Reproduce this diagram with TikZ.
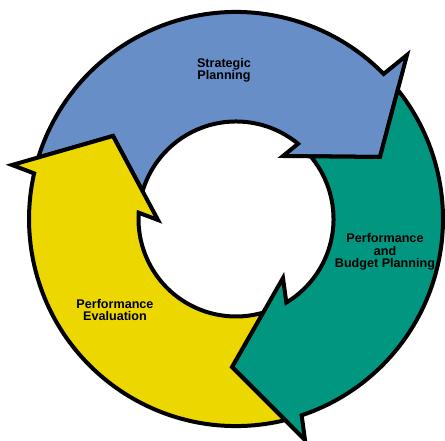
\documentclass[tikz,border=0pt]{standalone}
\usepackage{fontspec}
\setmainfont{Liberation Sans}
\usetikzlibrary{intersections,calc}
\definecolor{cblue}{RGB}{104,142,200}
\definecolor{cteal}{RGB}{0,150,128}
\definecolor{cyellow}{RGB}{236,216,0}
\tikzset{
  arrowband/.style={draw=black, line width=4pt, line join=miter, miter limit=20},
  lbl/.style={font=\bfseries\fontsize{12.6}{12.5}\selectfont, align=center, anchor=base, inner sep=0pt, text=black},
}
\begin{document}
\begin{tikzpicture}[x=1pt,y=1pt]
\useasboundingbox (-236,-222) rectangle (209,219);
\def\Ro{207}
\def\Ri{97.5}
\path[name path=outer] (0,0) circle[radius=\Ro];
\path[name path=inner] (0,0) circle[radius=\Ri];
% arrow heads: tip T, outer barb O, inner barb I
\coordinate (bT) at (144,62);
\coordinate (bO) at (171,164);
\coordinate (bI) at (47,63);
\coordinate (tT) at (-4,-148);
\coordinate (tO) at (69,-221);
\coordinate (tI) at (47,-59);
\coordinate (yT) at (-123,83);
\coordinate (yO) at (-224,54);
\coordinate (yI) at (-78,-1);
\path[name path=bTO] (bT) -- (bO);
\path[name path=bTI] (bT) -- (bI);
\path[name path=bOI] (bO) -- (bI);
\path[name path=tTO] (tT) -- (tO);
\path[name path=tTI] (tT) -- (tI);
\path[name path=tOI] (tO) -- (tI);
\path[name path=yTO] (yT) -- (yO);
\path[name path=yTI] (yT) -- (yI);
\path[name path=yOI] (yO) -- (yI);
\path[name intersections={of=outer and bOI, by=bBo}];
\path[name intersections={of=inner and bOI, by=bBi}];
\path[name intersections={of=outer and bTO, by=bPo}];
\path[name intersections={of=inner and bTI, by=bPi}];
\path[name intersections={of=outer and tOI, by=tBo}];
\path[name intersections={of=inner and tOI, by=tBi}];
\path[name intersections={of=outer and tTO, by=tPo}];
\path[name intersections={of=inner and tTI, by=tPi}];
\path[name intersections={of=outer and yOI, by=yBo}];
\path[name intersections={of=inner and yOI, by=yBi}];
\path[name intersections={of=outer and yTO, by=yPo}];
\path[name intersections={of=inner and yTI, by=yPi}];
% blue: Strategic Planning
\draw[arrowband, fill=cblue]
  let \p1=(yPo), \p2=(bBo), \p3=(bBi), \p4=(yPi),
      \n1={atan2(\y1,\x1)}, \n2={atan2(\y2,\x2)},
      \n3={atan2(\y3,\x3)}, \n4={atan2(\y4,\x4)} in
  (yPo) arc[start angle=\n1, end angle=\n2, radius=\Ro] -- (bO) -- (bT) -- (bI) -- (bBi)
  arc[start angle=\n3, end angle=\n4, radius=\Ri] -- (yT) -- cycle;
% teal: Performance and Budget Planning
\draw[arrowband, fill=cteal]
  let \p1=(bPo), \p2=(tBo), \p3=(tBi), \p4=(bPi),
      \n1={atan2(\y1,\x1)}, \n2={atan2(\y2,\x2)},
      \n3={atan2(\y3,\x3)}, \n4={atan2(\y4,\x4)} in
  (bPo) arc[start angle=\n1, end angle=\n2, radius=\Ro] -- (tO) -- (tT) -- (tI) -- (tBi)
  arc[start angle=\n3, end angle=\n4, radius=\Ri] -- (bT) -- cycle;
% yellow: Performance Evaluation
\draw[arrowband, fill=cyellow]
  let \p1=(tPo), \p2=(yBo), \p3=(yBi), \p4=(tPi),
      \n1={atan2(\y1,\x1)}, \n2={atan2(\y2,\x2)-360},
      \n3={atan2(\y3,\x3)}, \n4={atan2(\y4,\x4)+360} in
  (tPo) arc[start angle=\n1, end angle=\n2, radius=\Ro] -- (yO) -- (yT) -- (yI) -- (yBi)
  arc[start angle=\n3, end angle=\n4, radius=\Ri] -- (tT) -- cycle;
% labels (anchored at the baseline of their last line)
\node[lbl] (sp) at (-12,139) {Strategic\\Planning};
\node[lbl] (pbp) at (149,-48.7) {Performance\\and\\Budget Planning};
\node[lbl] (pe) at (-121,-101.8) {Performance\\Evaluation};
\end{tikzpicture}
\end{document}
